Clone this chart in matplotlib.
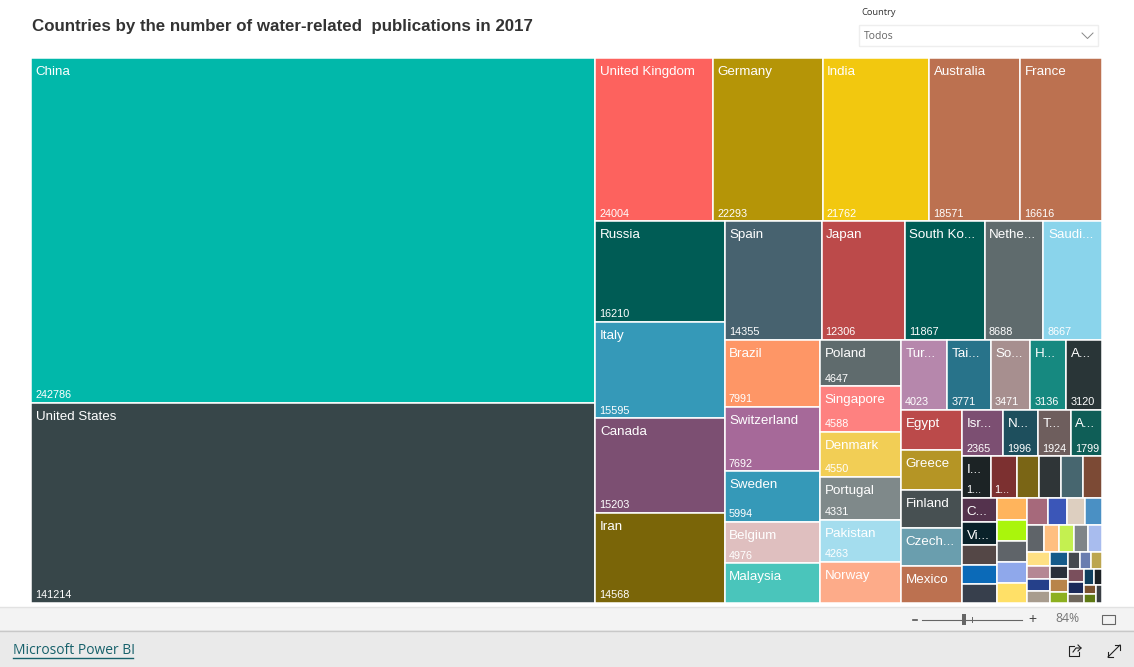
import matplotlib
matplotlib.use("Agg")
import matplotlib.pyplot as plt
from matplotlib.patches import Rectangle

titulo = "Countries by the number of water-related  publications in 2017"

# nome mostrado em cada celula (truncado como no original)
paises = [
    "China", "United States", "United Kingdom", "Germany", "India", "Australia", "France",
    "Russia", "Italy", "Canada", "Iran", "Spain", "Japan", "South Ko...", "Nethe...", "Saudi...",
    "Brazil", "Switzerland", "Sweden", "Belgium", "Malaysia",
    "Poland", "Singapore", "Denmark", "Portugal", "Pakistan", "Norway",
    "Tur...", "Tai...", "So...", "H...", "A...",
    "Egypt", "Greece", "Finland", "Czech...", "Mexico",
    "Isr...", "N...", "T...", "A...",
    "I...", "", "", "", "", "",
    "C...", "Vi...", "", "", "",
    "", "", "", "", "",
    "", "", "", "",
    "", "", "", "", "",
    "", "", "", "",
    "", "", "", "",
    "", "", "",
    "", "", "",
    "", "", "", "", "",
]

publicacoes = [
    242786, 141214, 24004, 22293, 21762, 18571, 16616,
    16210, 15595, 15203, 14568, 14355, 12306, 11867, 8688, 8667,
    7991, 7692, 5994, 4976, 4750,
    4647, 4588, 4550, 4331, 4263, 4150,
    4023, 3771, 3471, 3136, 3120,
    3080, 3026, 2948, 2895, 2791,
    2365, 1996, 1924, 1799,
    1461, 1357, 1148, 1148, 1113, 1009,
    1037, 1007, 887, 827, 812,
    815, 790, 790, 745, 755,
    708, 651, 615, 581,
    577, 520, 487, 475, 463,
    412, 373, 353, 334,
    321, 305, 297, 265,
    265, 243, 235,
    246, 227, 185,
    187, 160, 144, 134, 126,
]

# quantas celulas em cada faixa do treemap
faixas = [2, 5, 4, 5, 5, 6, 5, 5, 4, 6, 5, 5, 4, 5, 4, 4, 3, 3, 2, 2, 1]
# sentido de cada faixa: C = coluna na esquerda, L = linha no topo
sentidos = "CLCLCCLCLLCCLLCCLCLCC"

# rotulo de valor (None = sem rotulo no original)
rotulos = [
    "242786", "141214", "24004", "22293", "21762", "18571", "16616",
    "16210", "15595", "15203", "14568", "14355", "12306", "11867", "8688", "8667",
    "7991", "7692", "5994", "4976", None,
    "4647", "4588", "4550", "4331", "4263", None,
    "4023", "3771", "3471", "3136", "3120",
    None, None, None, None, None,
    "2365", "1996", "1924", "1799",
    "1...", "1...",
] + [None] * 42

cores = [
    "#01B8AA", "#374649", "#FD625E", "#B59507", "#F2C80F", "#BC7150", "#BC7150",
    "#005C55", "#3599B8", "#7C4F72", "#7A6508", "#47626F", "#BC4A4A", "#005C55", "#5F6B6D", "#8AD4EB",
    "#FE9666", "#A66999", "#3599B8", "#DFBFBF", "#4AC5BB",
    "#5F6B6D", "#FE8180", "#F2CE55", "#7F898A", "#A4DDEE", "#FDAB89",
    "#B687AC", "#28738A", "#A78F8F", "#168980", "#293537",
    "#BB4A4A", "#B59525", "#475052", "#6A9EAE", "#BC7150",
    "#7C4F72", "#1E4F5D", "#6E5E5D", "#0F5E57",
    "#1C2325", "#7C3030", "#7A6515", "#2F3537", "#47666F", "#7C4A35",
    "#54324D", "#0A222A", "#544746", "#0B6AB8", "#373F4C",
    "#FFB45C", "#AAF50C", "#5F6469", "#8FA8EB", "#FFE067",
    "#A6697B", "#3B56B8", "#DDCFC0", "#4A90C4",
    "#5F6469", "#FFBF80", "#C4F050", "#7F8589", "#A8BCEE",
    "#FFE083", "#B58794", "#25408A", "#A89C8E",
    "#155A8A", "#2A2F3A", "#B8844A", "#8DB020",
    "#45494F", "#6A7DB0", "#BCA650",
    "#7A4F5C", "#1A2A5A", "#6F675C",
    "#0F3F5E", "#1C2125", "#7A5230", "#5F7A14", "#3A3F44",
]


def layout_faixas(valores, grupos, direcoes, x, y, w, h):
    # cada faixa corta a area que resta, proporcional aos valores
    total = sum(valores)
    escala = w * h / total
    rects = []
    i = 0
    for n, d in zip(grupos, direcoes):
        linha = [v * escala for v in valores[i:i + n]]
        s = sum(linha)
        if d == "C":
            larg = s / h
            yy = y
            for a in linha:
                rects.append((x, yy, larg, a / larg))
                yy += a / larg
            x += larg
            w -= larg
        else:
            alt = s / w
            xx = x
            for a in linha:
                rects.append((xx, y, a / alt, alt))
                xx += a / alt
            y += alt
            h -= alt
        i += n
    return rects


plt.rcParams["font.family"] = ["Liberation Sans", "DejaVu Sans"]
fig = plt.figure(figsize=(11.34, 6.67), dpi=100)

# eixo de fundo em pixels, para o titulo e a moldura do Power BI
fundo = fig.add_axes([0, 0, 1, 1])
fundo.set_xlim(0, 1134)
fundo.set_ylim(667, 0)
fundo.axis("off")

fundo.text(32, 27, titulo, fontsize=12.15, fontweight="bold", color="#333333", va="center")
fundo.text(861, 12.5, "Country", fontsize=6.7, color="#333333", va="center", family="Open Sans")
fundo.add_patch(Rectangle((858.5, 24.5), 239, 21, facecolor="white", edgecolor="#EEEEEE", lw=1))
fundo.text(864, 36.5, "Todos", fontsize=7.5, color="#666666", va="center", family="Open Sans")
fundo.plot([1082, 1087.5, 1093], [33, 38.5, 33], color="#888888", lw=0.7)

fundo.add_patch(Rectangle((0, 607), 1134, 23, facecolor="#F3F3F3", edgecolor="none"))
fundo.add_patch(Rectangle((0, 630), 1134, 37, facecolor="#EAEAEA", edgecolor="none"))
fundo.plot([0, 1134], [606.5, 606.5], color="#E2E2E2", lw=1)
fundo.plot([0, 1134], [630.5, 630.5], color="#C8C8C8", lw=1)

fundo.text(13, 651, "Microsoft Power BI", fontsize=10, color="#17616B", va="center", family="Open Sans")
fundo.plot([13, 133], [657.5, 657.5], color="#17616B", lw=1)

fundo.plot([913, 917], [619.5, 619.5], color="#555555", lw=1.2)
fundo.plot([922, 1022], [619.5, 619.5], color="#666666", lw=0.8)
fundo.plot([972, 972], [617, 622], color="#666666", lw=0.7)
fundo.add_patch(Rectangle((962, 614), 4, 11, facecolor="#666666", edgecolor="none"))
fundo.text(1032, 619, "+", fontsize=10, color="#444444", va="center", ha="center")
fundo.text(1067, 619, "84%", fontsize=8.8, color="#777777", va="center", ha="center", family="Open Sans")
fundo.add_patch(Rectangle((1102, 614.5), 13, 9, facecolor="none", edgecolor="#666666", lw=0.8))

# icones de compartilhar e expandir
fundo.plot([1074, 1069, 1069, 1079, 1079], [646, 646, 656, 656, 652], color="#222222", lw=0.8)
fundo.plot([1073, 1076, 1081], [652, 648, 648], color="#222222", lw=0.8)
fundo.plot([1078, 1081, 1078], [645, 648, 651], color="#222222", lw=0.8)
fundo.plot([1108, 1120], [657, 645], color="#222222", lw=0.8)
fundo.plot([1108, 1108, 1113], [652, 657, 657], color="#222222", lw=0.8)
fundo.plot([1115, 1120, 1120], [645, 645, 650], color="#222222", lw=0.8)

# treemap
ax = fig.add_axes([31 / 1134, 1 - 603 / 667, 1071 / 1134, 545 / 667])
ax.set_xlim(0, 1071)
ax.set_ylim(545, 0)
ax.axis("off")

for (x, y, w, h), nome, rot, cor in zip(layout_faixas(publicacoes, faixas, sentidos, 0, 0, 1071, 545), paises, rotulos, cores):
    ax.add_patch(Rectangle((x, y), w, h, facecolor=cor, edgecolor="white", lw=1.1))
    if nome:
        ax.text(x + 4.5, y + 14, nome, fontsize=9.6, color="white", va="center", clip_on=True)
    if rot:
        ax.text(x + 4, y + h - 7.5, rot, fontsize=7.8, color="white", va="center", clip_on=True)

fig.savefig("out.png", dpi=100)
